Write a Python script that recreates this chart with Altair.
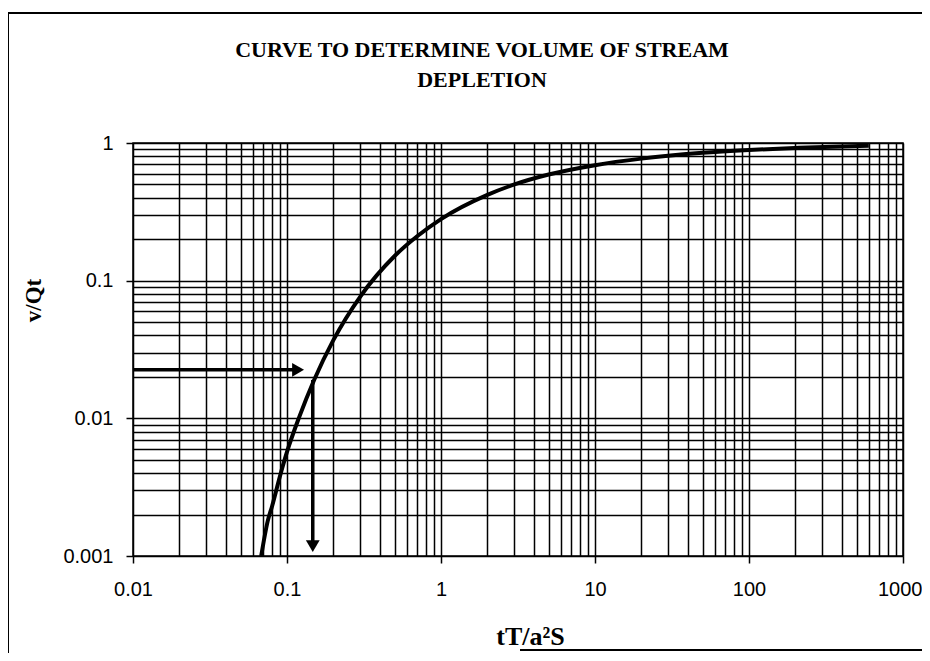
import altair as alt
import pandas as pd

# Curve values (x = tT/a^2S, y = v/Qt)
curve_x = [0.068, 0.075, 0.08, 0.09, 0.1, 0.12, 0.15, 0.2, 0.3, 0.5, 0.7, 1, 2, 3, 5, 10, 20, 50, 100, 200, 400, 600]
curve_y = [0.001, 0.0018, 0.0023, 0.0038, 0.0057, 0.0102, 0.019, 0.037, 0.077, 0.151, 0.21, 0.28, 0.42, 0.50, 0.59, 0.69, 0.77, 0.85, 0.89, 0.92, 0.945, 0.955]

# Example read-off arrows
arrow_h_x = [0.01, 0.112]
arrow_h_y = [0.0225, 0.0225]
arrow_v_x = [0.147, 0.147]
arrow_v_y = [0.019, 0.0012]
head_x = [0.118, 0.147]
head_y = [0.0225, 0.00118]
head_shape = ["triangle-right", "triangle-down"]

x_decades = [0.01, 0.1, 1, 10, 100, 1000]
y_decades = [0.001, 0.01, 0.1, 1]
x_grid = sorted({round(d * m, 6) for d in x_decades[:-1] for m in range(1, 10)} | {1000})
y_grid = sorted({round(d * m, 6) for d in y_decades[:-1] for m in range(1, 10)} | {1})

curve_df = pd.DataFrame({"x": curve_x, "y": curve_y})
shaft_df = pd.DataFrame({
    "x": arrow_h_x + arrow_v_x,
    "y": arrow_h_y + arrow_v_y,
    "g": ["h", "h", "v", "v"],
})
head_df = pd.DataFrame({"x": head_x, "y": head_y, "shape": head_shape})

is_decade = "abs(log(datum.value)/LN10 - round(log(datum.value)/LN10)) < 0.000001"

x_scale = alt.Scale(type="log", domain=[0.01, 1000], nice=False)
y_scale = alt.Scale(type="log", domain=[0.001, 1], nice=False)

x_axis = alt.Axis(
    values=x_grid, grid=True, gridColor="black", gridWidth=1.5, gridOpacity=1,
    labelExpr=f"{is_decade} ? format(datum.value, '~g') : ''",
    tickSize={"condition": {"test": is_decade, "value": 7}, "value": 0},
    tickColor="black", tickWidth=1.5, domain=False,
    labelFont="Liberation Sans", labelFontSize=20, labelColor="black", labelPadding=16,
    labelAlign={"condition": {"test": "datum.value == 1000", "value": "right"}, "value": "center"},
    labelOffset={"condition": {"test": "datum.value == 1000", "value": 19}, "value": 0},
    labelFlush=False, labelOverlap=False,
    title="tT/a²S", titleFont="Liberation Serif", titleFontSize=26, titleFontWeight="bold",
    titleColor="black", titleX=397, titleY=80, titleAlign="center", titleBaseline="middle",
)
y_axis = alt.Axis(
    values=y_grid, grid=True, gridColor="black", gridWidth=1.5, gridOpacity=1,
    labelExpr=f"{is_decade} ? format(datum.value, '~g') : ''",
    tickSize={"condition": {"test": is_decade, "value": 7}, "value": 0},
    tickColor="black", tickWidth=1.5, domain=False,
    labelFont="Liberation Sans", labelFontSize=20, labelColor="black", labelPadding=13,
    labelFlush=False, labelOverlap=False,
    title="v/Qt", titleFont="Liberation Serif", titleFontSize=23, titleFontWeight="bold",
    titleColor="black", titleX=-100, titleY=157, titleAngle=270, titleAlign="center",
    titleBaseline="middle",
)

curve = alt.Chart(curve_df).mark_line(color="black", strokeWidth=4, interpolate="monotone").encode(
    x=alt.X("x:Q", scale=x_scale, axis=x_axis),
    y=alt.Y("y:Q", scale=y_scale, axis=y_axis),
)

shafts = alt.Chart(shaft_df).mark_line(color="black", strokeWidth=3.5).encode(
    x=alt.X("x:Q", scale=x_scale),
    y=alt.Y("y:Q", scale=y_scale),
    detail="g:N",
)

heads = alt.Chart(head_df).mark_point(filled=True, color="black", size=190, opacity=1).encode(
    x=alt.X("x:Q", scale=x_scale),
    y=alt.Y("y:Q", scale=y_scale),
    shape=alt.Shape("shape:N", scale=None, legend=None),
)

frame_left = alt.Chart(curve_df).mark_rule(color="black", strokeWidth=1.5).encode(
    x=alt.value(-125), y=alt.value(-130), y2=alt.value(520)
)
frame_top = alt.Chart(curve_df).mark_rule(color="black", strokeWidth=1.5).encode(
    x=alt.value(-125), x2=alt.value(790), y=alt.value(-130)
)
frame_bottom = alt.Chart(curve_df).mark_rule(color="black", strokeWidth=1.5).encode(
    x=alt.value(387), x2=alt.value(790), y=alt.value(507)
)

chart = alt.layer(curve, shafts, heads, frame_left, frame_top, frame_bottom).properties(
    width=770,
    height=413,
    padding={"left": 125, "top": 135, "right": 19, "bottom": 97},
    autosize=alt.AutoSizeParams(type="none"),
    background="white",
    title=alt.TitleParams(
        text=["CURVE TO DETERMINE VOLUME OF STREAM", "DEPLETION"],
        font="Liberation Serif", fontSize=22, fontWeight="bold", color="black",
        anchor="middle", dx=-36, dy=80, offset=0, lineHeight=30,
    ),
).configure_view(stroke="black", strokeWidth=1.5)

chart.save("out.html", embed_options={"renderer": "svg", "actions": False})
